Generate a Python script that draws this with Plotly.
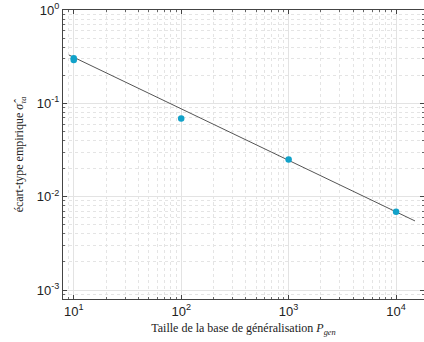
import plotly.graph_objects as go

# Data
taille = [10, 10, 100, 1000, 10000]
ecart_type = [0.305, 0.292, 0.069, 0.025, 0.0069]

fit_x = [9.0, 15000]
fit_y = [0.33, 0.0055]

x_tickvals = [10, 100, 1000, 10000]
x_ticktext = ["10<sup>1</sup>", "10<sup>2</sup>", "10<sup>3</sup>", "10<sup>4</sup>"]
y_tickvals = [0.001, 0.01, 0.1, 1]
y_ticktext = ["10<sup>-3</sup>", "10<sup>-2</sup>", "10<sup>-1</sup>", "10<sup>0</sup>"]

mantissas = [2, 3, 4, 5, 6, 7, 8, 9]
x_decades = [1, 10, 100, 1000, 10000]
y_decades = [0.0001, 0.001, 0.01, 0.1]
x_minor = [m * d for d in x_decades for m in mantissas]
y_minor = [m * d for d in y_decades for m in mantissas]

fig = go.Figure()
fig.add_trace(go.Scatter(x=fit_x, y=fit_y, mode="lines",
                         line=dict(color="#555555", width=1), showlegend=False))
fig.add_trace(go.Scatter(x=taille, y=ecart_type, mode="markers",
                         marker=dict(color="#12a2c9", size=6.5), showlegend=False))

def axis_common(minor_vals):
    return dict(
        type="log", showline=True, linecolor="#444444", linewidth=1, mirror="ticks",
        ticks="inside", ticklen=4, tickcolor="#444444",
        showgrid=True, gridcolor="#e3e3e3", gridwidth=1,
        zeroline=False, automargin=False,
        tickfont=dict(family="Liberation Sans, Arial, sans-serif", size=13, color="#222222"),
        minor=dict(tickmode="array", tickvals=minor_vals, ticks="inside", ticklen=2,
                   tickcolor="#666666", showgrid=True, gridcolor="#e4e4e4", griddash="dot"),
    )

label_font = dict(family="Liberation Serif, DejaVu Serif, serif", size=12, color="#222222")

fig.update_xaxes(**axis_common(x_minor), range=[0.90, 4.26], tickvals=x_tickvals, ticktext=x_ticktext,
                 title=dict(text="Taille de la base de généralisation <i>P<sub>gen</sub></i>",
                            font=label_font, standoff=6))
fig.update_yaxes(**axis_common(y_minor), range=[-3.096, 0], tickvals=y_tickvals, ticktext=y_ticktext,
                 title=dict(text="écart-type empirique <i>σ̂<sub>τa</sub></i>",
                            font=label_font, standoff=10))

fig.update_layout(
    width=424, height=342,
    margin=dict(l=63, r=0, t=10, b=43),
    plot_bgcolor="white", paper_bgcolor="white",
)

fig.write_html("out.html", config={"displayModeBar": False},
               post_script="document.body.style.margin='0';")
